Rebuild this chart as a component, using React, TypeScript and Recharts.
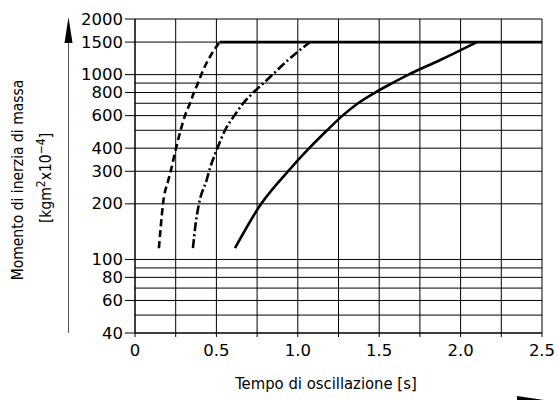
import React from 'react';
import { LineChart, Line, XAxis, YAxis, CartesianGrid } from 'recharts';

// Tick values
const xTicks = [0, 0.25, 0.5, 0.75, 1, 1.25, 1.5, 1.75, 2, 2.25, 2.5];
const xTickLabels = ['0', '', '0.5', '', '1.0', '', '1.5', '', '2.0', '', '2.5'];
const yGridTicks = [40, 50, 60, 70, 80, 90, 100, 200, 300, 400, 500, 600, 700, 800, 900, 1000, 1500, 2000];
const yLabeledTicks = [40, 60, 80, 100, 200, 300, 400, 600, 800, 1000, 1500, 2000];

// Series: dashed curve (time [s], inertia)
const dashedT = [0.147, 0.158, 0.172, 0.205, 0.219, 0.252, 0.28, 0.307, 0.338, 0.362, 0.387, 0.407, 0.52];
const dashedJ = [115, 150, 200, 269, 300, 400, 500, 600, 700, 800, 900, 1000, 1500];

// Series: dash-dot curve
const dashDotT = [0.356, 0.37, 0.393, 0.44, 0.455, 0.506, 0.553, 0.61, 0.665, 0.727, 0.79, 0.845, 0.94, 1.075];
const dashDotJ = [115, 150, 200, 269, 300, 400, 500, 600, 700, 800, 900, 1000, 1200, 1500];

// Series: solid curve
const solidT = [0.614, 0.775, 0.94, 1.07, 1.18, 1.275, 1.37, 1.475, 1.58, 1.68, 1.875, 2.1];
const solidJ = [115, 200, 300, 400, 500, 600, 700, 800, 900, 1000, 1200, 1500];

// Series: upper limit line
const limitT = [0.52, 2.5];
const limitJ = [1500, 1500];

const zip = (t: number[], j: number[]) => t.map((v, i) => ({ t: v, j: j[i] }));
const dashedData = zip(dashedT, dashedJ);
const dashDotData = zip(dashDotT, dashDotJ);
const solidData = zip(solidT, solidJ);
const limitData = zip(limitT, limitJ);

const TICK_FONT = '"DejaVu Sans", sans-serif';
const TITLE_FONT = '"DejaVu Sans Condensed", "DejaVu Sans", sans-serif';

const YTick = (props: any) => {
  const { x, y, payload } = props;
  const v = payload.value;
  if (!yLabeledTicks.includes(v)) return <g />;
  return (
    <g>
      <line x1={x + 2} y1={y} x2={x + 12} y2={y} stroke="#000" strokeWidth={1} />
      <text x={x} y={y} textAnchor="end" dominantBaseline="central" fontFamily={TICK_FONT} fontSize={16.5} fill="#000">
        {v}
      </text>
    </g>
  );
};

const XTick = (props: any) => {
  const { x, y, payload } = props;
  const idx = xTicks.indexOf(payload.value);
  const label = idx >= 0 ? xTickLabels[idx] : '';
  return (
    <text x={x} y={y} dy="0.71em" textAnchor="middle" fontFamily={TICK_FONT} fontSize={16.5} fill="#000">
      {label}
    </text>
  );
};

export default function App() {
  return (
    <div style={{ position: 'absolute', left: 0, top: 0, width: 558, height: 400, background: '#fff' }}>
      <LineChart width={558} height={400} margin={{ top: 19, right: 16, left: 0, bottom: 0 }}>
        <CartesianGrid stroke="#000" strokeWidth={1} />
        <XAxis
          type="number"
          dataKey="t"
          domain={[0, 2.5]}
          ticks={xTicks}
          interval={0}
          height={67}
          tickSize={4}
          tickMargin={7}
          tick={<XTick />}
          axisLine={{ stroke: '#000' }}
          tickLine={{ stroke: '#000' }}
          allowDataOverflow
        />
        <YAxis
          type="number"
          dataKey="j"
          scale="log"
          domain={[40, 2000]}
          ticks={yGridTicks}
          interval={0}
          width={135}
          tickSize={10}
          tickMargin={2}
          tick={<YTick />}
          tickLine={false}
          axisLine={{ stroke: '#000' }}
          allowDataOverflow
        />
        <Line data={dashedData} dataKey="j" type="monotone" stroke="#000" strokeWidth={2.6} strokeDasharray="7 4" dot={false} isAnimationActive={false} />
        <Line data={dashDotData} dataKey="j" type="monotone" stroke="#000" strokeWidth={2.6} strokeDasharray="9 3 2 3" dot={false} isAnimationActive={false} />
        <Line data={solidData} dataKey="j" type="monotone" stroke="#000" strokeWidth={2.6} dot={false} isAnimationActive={false} />
        <Line data={limitData} dataKey="j" type="linear" stroke="#000" strokeWidth={2.8} dot={false} isAnimationActive={false} />
      </LineChart>
      <svg width={558} height={400} style={{ position: 'absolute', left: 0, top: 0, pointerEvents: 'none' }}>
        <line x1={68.5} y1={40} x2={68.5} y2={333} stroke="#555" strokeWidth={1} />
        <polygon points="68.5,17 64.5,43 72.5,43" fill="#000" />
        <text
          transform="translate(23,180) rotate(-90)"
          textAnchor="middle"
          fontFamily={TITLE_FONT}
          fontSize={15.5}
          fill="#000"
        >
          Momento di inerzia di massa
        </text>
        <text
          transform="translate(51,178) rotate(-90)"
          textAnchor="middle"
          fontFamily={TITLE_FONT}
          fontSize={15.5}
          fill="#000"
        >
          [kgm<tspan dy={-6} fontSize={12}>2</tspan><tspan dy={6}>x10</tspan><tspan dy={-6} fontSize={12}>−4</tspan><tspan dy={6}>]</tspan>
        </text>
        <text x={326} y={389} textAnchor="middle" fontFamily={TITLE_FONT} fontSize={16.5} fill="#000">
          Tempo di oscillazione [s]
        </text>
        <polygon points="517,396 544,400 517,400" fill="#000" />
      </svg>
    </div>
  );
}
